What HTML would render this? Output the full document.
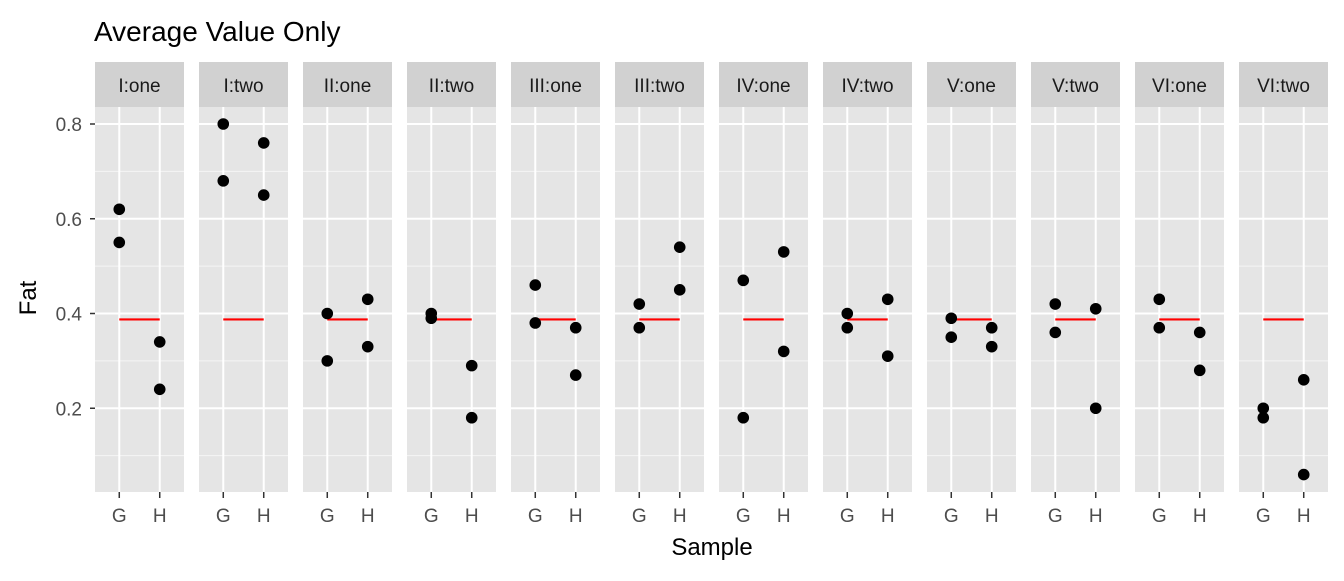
<!DOCTYPE html>
<html><head><meta charset="utf-8"><style>
body{margin:0;background:#fff;}
svg text{font-family:"Liberation Sans",Arial,sans-serif;}
</style></head><body>
<svg id="chart" width="1344" height="576" xmlns="http://www.w3.org/2000/svg">
<text x="94" y="41" font-size="28" fill="#000">Average Value Only</text>
<text x="0" y="0" font-size="24" fill="#000" text-anchor="middle" transform="translate(36,298) rotate(-90)">Fat</text>
<text x="712" y="555" font-size="24" fill="#000" text-anchor="middle">Sample</text>
<g id="panels"></g>
</svg>
<script>
const panelLabels=["I:one","I:two","II:one","II:two","III:one","III:two","IV:one","IV:two","V:one","V:two","VI:one","VI:two"];
const categories=["G","H"];
const gValues=[[0.62,0.55],[0.80,0.68],[0.40,0.30],[0.40,0.39],[0.46,0.38],[0.42,0.37],[0.47,0.18],[0.40,0.37],[0.39,0.35],[0.42,0.36],[0.43,0.37],[0.20,0.18]];
const hValues=[[0.34,0.24],[0.76,0.65],[0.43,0.33],[0.29,0.18],[0.37,0.27],[0.54,0.45],[0.53,0.32],[0.43,0.31],[0.37,0.33],[0.41,0.20],[0.36,0.28],[0.26,0.06]];
const yTicks=[0.2,0.4,0.6,0.8];
const yMinor=[0.1,0.3,0.5,0.7];
const tickLabels=["0.2","0.4","0.6","0.8"];

const NS="http://www.w3.org/2000/svg";
const g=document.getElementById('panels');
const top0=107,bot0=492,pw=89,pitch=104,left0=95;
function y(v){return 124+(0.8-v)*473.75;}
function x(i,p){return left0+p*pitch+(i+0.6)*(pw/2.2);}
function mk(tag,attrs,parent){const e=document.createElementNS(NS,tag);for(const k in attrs)e.setAttribute(k,attrs[k]);(parent||g).appendChild(e);return e;}
let all=[];gValues.forEach(a=>all.push(...a));hValues.forEach(a=>all.push(...a));
const mean=all.reduce((s,v)=>s+v,0)/all.length;

yTicks.forEach((t,i)=>{
  const tl=mk('text',{x:82,y:y(t)+7,'font-size':19,fill:'#4d4d4d','text-anchor':'end'});
  tl.textContent=tickLabels[i];
  
  
  const tk=mk('line',{x1:90,x2:95,y1:y(t),y2:y(t),stroke:'#333','stroke-width':1.5});
  
  
});

panelLabels.forEach((lab,p)=>{
  const L=left0+p*pitch;
  const pg=mk('g',{});
  
  
  const strip=mk('rect',{x:L,y:62,width:pw,height:45,fill:'#d1d1d1'},pg);
  
  
  const st=mk('text',{x:L+pw/2,y:92,'font-size':19,fill:'#1a1a1a','text-anchor':'middle'},pg);
  st.textContent=lab;
  
  
  const bg=mk('rect',{x:L,y:top0,width:pw,height:bot0-top0,fill:'#e5e5e5'},pg);
  
  
  yMinor.forEach(t=>{const l=mk('line',{x1:L,x2:L+pw,y1:y(t),y2:y(t),stroke:'#f5f5f5','stroke-width':1},pg);
    });
  yTicks.forEach(t=>{const l=mk('line',{x1:L,x2:L+pw,y1:y(t),y2:y(t),stroke:'#fff','stroke-width':2},pg);
    });
  categories.forEach((c,i)=>{
    const l=mk('line',{x1:x(i,p),x2:x(i,p),y1:top0,y2:bot0,stroke:'#fff','stroke-width':2},pg);
    
    const tk=mk('line',{x1:x(i,p),x2:x(i,p),y1:bot0,y2:bot0+6,stroke:'#333','stroke-width':1.5},pg);
    
    const tl=mk('text',{x:x(i,p),y:bot0+30,'font-size':19,fill:'#4d4d4d','text-anchor':'middle'},pg);
    tl.textContent=c;
    
  });
  const ml=mk('line',{x1:x(0,p),x2:x(1,p),y1:y(mean),y2:y(mean),stroke:'#ff0000','stroke-width':2.2},pg);
  
  
  [gValues[p],hValues[p]].forEach((vals,i)=>vals.forEach(v=>{
    const c=mk('circle',{cx:x(i,p),cy:y(v),r:5.8,fill:'#000'},pg);
    
    
  }));
});
</script>
</body></html>
